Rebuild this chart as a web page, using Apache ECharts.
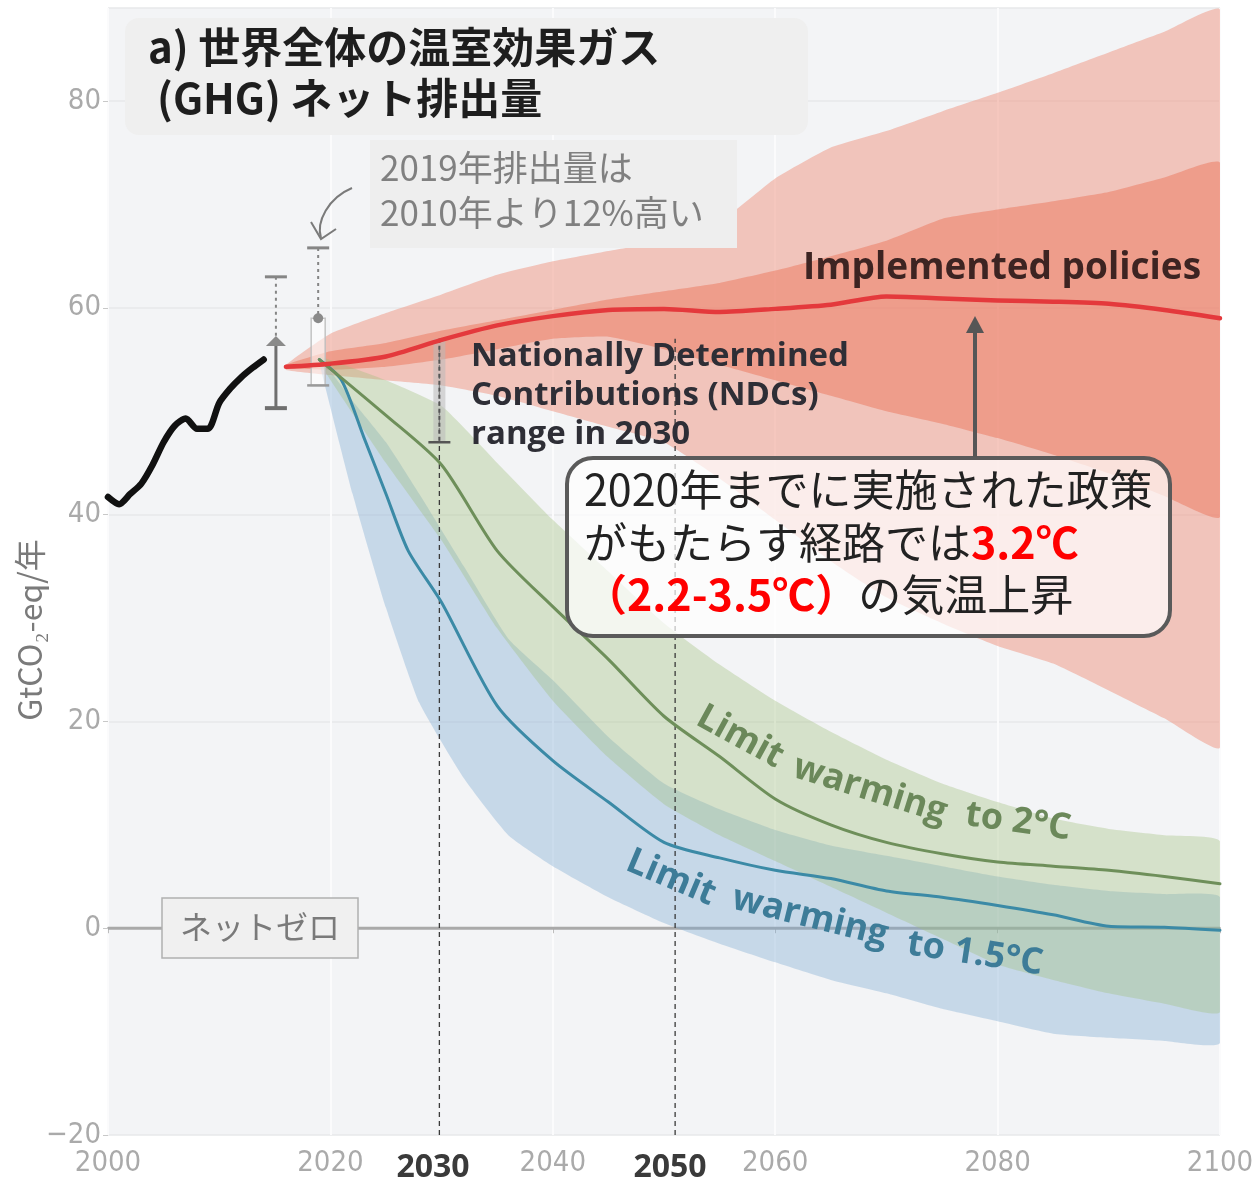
<!DOCTYPE html>
<html><head><meta charset="utf-8">
<script src="https://cdn.jsdelivr.net/npm/echarts@6/dist/echarts.min.js"></script>
<style>html,body{margin:0;padding:0;background:#fff}#c{width:1258px;height:1182px}</style>
</head><body><div id="c"></div>
<script>
// ---- historical emissions (GtCO2-eq/yr) ----
const histYears  = [2000,2001,2002,2003,2004,2005,2006,2007,2008,2009,2010,2011,2012,2013,2014];
const histValues = [41.7,41.0,42.0,43.0,44.8,47.0,48.6,49.3,48.3,48.3,50.8,52.2,53.3,54.2,55.0];

// ---- implemented policies ----
const redYears      = [2016,2020,2025,2030,2035,2040,2045,2050,2055,2060,2065,2070,2075,2080,2085,2090,2095,2100];
const redMedian     = [54.3,54.6,55.3,56.9,58.3,59.2,59.8,59.9,59.6,59.9,60.3,61.1,60.9,60.7,60.6,60.4,59.8,59.0];
const redOuterHigh  = [54.5,57.5,59.5,61.3,63.2,64.5,65.5,66.5,68.3,72.5,75.5,77.1,79.0,80.8,82.7,84.7,86.7,88.8];
const redOuterLow   = [54.0,53.5,53.0,52.5,51.5,50.0,48.5,47.0,43.5,39.5,35.5,32.0,29.5,27.3,25.6,23.0,20.3,17.5];
const redInnerHigh  = [54.5,55.8,56.6,57.8,58.8,59.8,60.8,61.6,62.4,63.6,65.0,66.5,68.6,69.5,70.3,71.2,72.6,74.0];
const redInnerLow   = [54.2,54.0,54.3,55.0,56.0,57.0,57.2,56.0,54.5,53.0,51.5,50.0,48.8,47.4,45.8,44.0,41.8,39.8];

// ---- limit warming to 2°C ----
const greenYears  = [2019,2025,2030,2035,2040,2045,2050,2055,2060,2065,2070,2075,2080,2085,2090,2095,2100];
const greenMedian = [55.0,49.6,44.8,36.5,31.1,26.0,20.5,16.6,12.5,10.0,8.3,7.2,6.4,6.0,5.6,5.0,4.3];
const greenHigh   = [55.3,53.0,50.5,45.0,39.5,34.5,29.5,25.5,22.0,19.0,16.3,14.0,12.2,10.6,9.6,9.0,8.4];
const greenLow    = [54.7,45.0,37.5,29.0,22.0,16.5,12.0,9.0,6.5,4.0,1.5,-1.0,-3.5,-5.0,-6.3,-7.3,-8.1];

// ---- limit warming to 1.5°C ----
const blueLineYears = [2019,2021,2023,2025,2027,2030,2035,2040,2045,2050,2055,2060,2065,2070,2075,2080,2085,2090,2095,2100];
const blueMedian    = [55.0,53.0,47.5,42.0,36.5,31.5,21.5,16.2,12.2,8.3,6.8,5.6,4.8,3.6,3.0,2.2,1.3,0.2,0.1,-0.2];
const blueBandYears = [2019,2022,2025,2028,2032,2036,2040,2045,2050,2055,2060,2065,2070,2075,2080,2085,2090,2095,2100];
const blueHigh      = [55.3,51.0,47.0,42.0,35.0,28.0,24.0,18.5,14.0,11.5,9.5,8.0,7.0,6.0,5.0,4.2,3.6,3.3,3.0];
const blueLow       = [54.7,42.0,31.0,21.8,14.5,9.0,6.0,3.0,0.5,-1.5,-3.3,-5.0,-6.3,-7.8,-9.0,-10.2,-10.6,-10.9,-11.1];

// ---- range bars: [year, low, mid, high] ----
const rangeBars = [[2015.1,50.3,56.6,63.0],[2018.9,52.5,59.0,65.8]];
const ndcBar    = [[2029.8,47.0,57.0]];
// ---- marked years (dashed guides) ----
const guideYears  = [2029.8,2051.0];
const guideLabels = ['2030','2050'];
const guideTop    = 57;

const xTicks = {min:2000, max:2100, interval:20};
const yTicks = {min:-20, max:89, interval:20};

const chart = echarts.init(document.getElementById('c'));

function pairs(xs, ys){ return xs.map((x,i)=>[x, ys[i]]); }

function band(name, years, lo, hi, color, z){
  return {
    type:'custom', name, z, silent:true, clip:true,
    data: years.map((y,i)=>[y, lo[i], hi[i]]),
    encode:{x:0, y:[1,2]},
    renderItem(params, api){
      if (params.dataIndexInside !== 0) return null;
      const n = params.dataInsideLength, top=[], bot=[];
      for (let i=0;i<n;i++){
        const x = api.value(0,i);
        top.push(api.coord([x, api.value(2,i)]));
        bot.push(api.coord([x, api.value(1,i)]));
      }
      return {type:'polygon', shape:{points: top.concat(bot.reverse()), smooth:0.15}, style:{fill:color}};
    }
  };
}

function line(name, xs, ys, color, width, z){
  return {type:'line', name, z, data: pairs(xs, ys), symbol:'none', smooth:0.25, silent:true,
    lineStyle:{color, width, cap:'round', join:'round'}};
}

const grey = '#858585';
const tickFont = '"DejaVu Sans Condensed", "Liberation Sans Narrow", sans-serif';

const option = {
  animation:false,
  backgroundColor:'#ffffff',
  grid:{left:108, right:38, top:8, bottom:47, show:true, backgroundColor:'#f3f4f6', borderWidth:0},
  xAxis:{type:'value', min:xTicks.min, max:xTicks.max, interval:xTicks.interval,
    axisLine:{show:true, lineStyle:{color:'#b9b9b9', width:2}},
    axisTick:{show:true, length:5, lineStyle:{color:'#bdbdbd'}},
    axisLabel:{fontFamily:tickFont, fontSize:29, color:'#aaaaaa', margin:14, formatter: v => String(v)},
    splitLine:{show:true, lineStyle:{color:'#fbfbfc', width:2}}},
  yAxis:{type:'value', min:yTicks.min, max:yTicks.max, interval:yTicks.interval,
    axisLine:{show:false},
    axisTick:{show:true, length:5, lineStyle:{color:'#c8c8c8'}},
    axisLabel:{fontFamily:tickFont, fontSize:29, color:'#aaaaaa', margin:7, showMaxLabel:false,
      formatter: v => String(v).replace('-', '\u2212')},
    splitLine:{show:true, lineStyle:{color:'#e7e8ea', width:1.5}}},
  series:[
    {type:'line', name:'zero', z:1, data:[[xTicks.min,0],[xTicks.max,0]], symbol:'none', silent:true,
      lineStyle:{color:'#a9a9a9', width:3}},
    band('redOuter', redYears, redOuterLow, redOuterHigh, 'rgba(240,148,128,0.50)', 2),
    band('redInner', redYears, redInnerLow, redInnerHigh, 'rgba(236,118,92,0.50)', 3),
    band('blue', blueBandYears, blueLow, blueHigh, 'rgba(125,172,210,0.38)', 4),
    band('green', greenYears, greenLow, greenHigh, 'rgba(160,190,125,0.36)', 4),
    // dashed guides
    {type:'custom', name:'guides', z:6, silent:true,
      data: guideYears.map(y=>[y, yTicks.min, guideTop]),
      encode:{x:0, y:[1,2]},
      renderItem(params, api){
        const p1 = api.coord([api.value(0), api.value(1)]), p2 = api.coord([api.value(0), api.value(2)]);
        return {type:'line', shape:{x1:p1[0], y1:p1[1], x2:p2[0], y2:p2[1]},
          style:{stroke:'#3a3a3a', lineWidth:1.3, lineDash:[5,4]}};
      }},
    // NDC range bar
    {type:'custom', name:'ndc', z:7, silent:true,
      data: ndcBar, encode:{x:0, y:[1,2]},
      renderItem(params, api){
        const lo = api.coord([api.value(0), api.value(1)]), hi = api.coord([api.value(0), api.value(2)]);
        return {type:'group', children:[
          {type:'rect', shape:{x:lo[0]-6, y:hi[1], width:12, height:lo[1]-hi[1]}, style:{fill:'rgba(185,185,185,0.55)'}},
          {type:'line', shape:{x1:lo[0], y1:hi[1], x2:lo[0], y2:lo[1]}, style:{stroke:'#555', lineWidth:2, lineDash:[4,3]}},
          {type:'line', shape:{x1:lo[0]-11, y1:lo[1], x2:lo[0]+11, y2:lo[1]}, style:{stroke:'#555', lineWidth:2.5}}
        ]};
      }},
    // range bars near 2015/2019
    {type:'custom', name:'ranges', z:7, silent:true,
      data: rangeBars, encode:{x:0, y:[1,2,3]},
      renderItem(params, api){
        const x = api.value(0);
        const lo = api.coord([x, api.value(1)]), mid = api.coord([x, api.value(2)]), hi = api.coord([x, api.value(3)]);
        const cx = lo[0];
        const ch = [
          {type:'line', shape:{x1:cx, y1:hi[1], x2:cx, y2:mid[1]}, style:{stroke:grey, lineWidth:2, lineDash:[3,4]}},
          {type:'line', shape:{x1:cx-11, y1:hi[1], x2:cx+11, y2:hi[1]}, style:{stroke:grey, lineWidth:3}}
        ];
        if (params.dataIndex === 0){
          ch.push({type:'line', shape:{x1:cx, y1:mid[1], x2:cx, y2:lo[1]}, style:{stroke:'#6f6f6f', lineWidth:3}});
          ch.push({type:'line', shape:{x1:cx-11, y1:lo[1], x2:cx+11, y2:lo[1]}, style:{stroke:'#6f6f6f', lineWidth:4}});
          ch.push({type:'polygon', shape:{points:[[cx-10,mid[1]+3],[cx+10,mid[1]+3],[cx,mid[1]-7]]}, style:{fill:'#8a8a8a'}});
        } else {
          ch.push({type:'rect', shape:{x:cx-7, y:mid[1], width:14, height:lo[1]-mid[1]}, style:{fill:'rgba(255,255,255,0.55)', stroke:'rgba(190,190,190,0.9)', lineWidth:1.5}});
          ch.push({type:'line', shape:{x1:cx-11, y1:lo[1], x2:cx+11, y2:lo[1]}, style:{stroke:'#9a9a9a', lineWidth:2.5}});
          ch.push({type:'circle', shape:{cx:cx, cy:mid[1], r:5}, style:{fill:'#8a8a8a'}});
        }
        return {type:'group', children:ch};
      }},
    line('blueMedian', blueLineYears, blueMedian, '#3b8aa6', 3, 8),
    line('greenMedian', greenYears, greenMedian, '#6e8f5a', 3, 8),
    line('implemented', redYears, redMedian, '#e4393c', 4.5, 9),
    line('history', histYears, histValues, '#111111', 6.5, 9)
  ],
  graphic:[
    // title
    {type:'rect', z:20, shape:{x:125, y:18, width:683, height:117, r:14}, style:{fill:'#efefef'}},
    {type:'text', z:21, x:148, y:47, style:{text:'a) 世界全体の温室効果ガス', font:'bold 42px "Noto Sans CJK JP"', fill:'#1e1e1e', verticalAlign:'middle'}},
    {type:'text', z:21, x:157, y:98, style:{text:'(GHG) ネット排出量', font:'bold 42px "Noto Sans CJK JP"', fill:'#1e1e1e', verticalAlign:'middle'}},
    // 2019 note
    {type:'rect', z:20, shape:{x:370, y:140, width:367, height:108}, style:{fill:'#eeeeee'}},
    {type:'text', z:21, x:380, y:168, style:{text:'2019年排出量は', font:'35px "Noto Sans CJK JP"', fill:'#808080', verticalAlign:'middle'}},
    {type:'text', z:21, x:380, y:213, style:{text:'2010年より12%高い', font:'35px "Noto Sans CJK JP"', fill:'#808080', verticalAlign:'middle'}},
    {type:'bezierCurve', z:21, shape:{x1:352, y1:188, x2:321, y2:238, cpx1:328, cpy1:198, cpx2:316, cpy2:222}, style:{stroke:'#7a7a7a', lineWidth:2, fill:null}},
    {type:'polyline', z:21, shape:{points:[[311,222],[321,239],[336,229]]}, style:{stroke:'#7a7a7a', lineWidth:2, fill:null}},
    // y axis name
    {type:'text', z:21, x:30, y:630, rotation:Math.PI/2, style:{text:'GtCO₂-eq/年', font:'32px "Noto Sans CJK JP"', fill:'#7a7a7a', align:'center', verticalAlign:'middle'}},
    // series labels
    {type:'text', z:21, x:803, y:268, style:{text:'Implemented policies', font:'bold 37px "Open Sans"', fill:'#3d2422', verticalAlign:'middle'}},
    {type:'text', z:21, x:471, y:396, style:{text:'Nationally Determined\nContributions (NDCs)\nrange in 2030', font:'bold 33px "Open Sans"', lineHeight:39, fill:'#2e2e36', verticalAlign:'middle'}},
    {type:'text', z:21, x:740, y:737, rotation:-0.50, style:{text:'Limit', font:'bold 36px "Open Sans"', fill:'#6b885a', align:'center', verticalAlign:'middle'}},
    {type:'text', z:21, x:870, y:790, rotation:-0.30, style:{text:'warming', font:'bold 36px "Open Sans"', fill:'#6b885a', align:'center', verticalAlign:'middle'}},
    {type:'text', z:21, x:1018, y:822, rotation:-0.14, style:{text:'to 2°C', font:'bold 36px "Open Sans"', fill:'#6b885a', align:'center', verticalAlign:'middle'}},
    {type:'text', z:21, x:671, y:878, rotation:-0.40, style:{text:'Limit', font:'bold 36px "Open Sans"', fill:'#3d7c98', align:'center', verticalAlign:'middle'}},
    {type:'text', z:21, x:810, y:917, rotation:-0.24, style:{text:'warming', font:'bold 36px "Open Sans"', fill:'#3d7c98', align:'center', verticalAlign:'middle'}},
    {type:'text', z:21, x:975, y:954, rotation:-0.15, style:{text:'to 1.5°C', font:'bold 36px "Open Sans"', fill:'#3d7c98', align:'center', verticalAlign:'middle'}},
    // net zero label
    {type:'rect', z:20, shape:{x:162, y:898, width:196, height:60}, style:{fill:'#f0f0f0', stroke:'#b0b0b0', lineWidth:1.5}},
    {type:'text', z:21, x:260, y:927, style:{text:'ネットゼロ', font:'32px "Noto Sans CJK JP"', fill:'#7a7a7a', align:'center', verticalAlign:'middle'}},
    // arrow to implemented policies
    {type:'line', z:21, shape:{x1:975, y1:457, x2:975, y2:330}, style:{stroke:'#565656', lineWidth:4}},
    {type:'polygon', z:21, shape:{points:[[966,333],[984,333],[975,316]]}, style:{fill:'#565656'}},
    // callout box
    {type:'rect', z:20, shape:{x:567, y:458, width:603, height:178, r:26}, style:{fill:'rgba(255,255,255,0.70)', stroke:'#5a5a5a', lineWidth:4}},
    {type:'text', z:21, x:584, y:490, style:{text:'2020年までに実施された政策', font:'43px "Noto Sans CJK JP"', fill:'#222', verticalAlign:'middle'}},
    {type:'text', z:21, x:584, y:543, style:{text:'がもたらす経路では{r|3.2℃}', font:'43px "Noto Sans CJK JP"', fill:'#222', verticalAlign:'middle',
      rich:{r:{font:'bold 43px "Noto Sans CJK JP"', fill:'#ff0000'}}}},
    {type:'text', z:21, x:584, y:595, style:{text:'{r|（2.2-3.5℃）}の気温上昇', font:'43px "Noto Sans CJK JP"', fill:'#222', verticalAlign:'middle',
      rich:{r:{font:'bold 43px "Noto Sans CJK JP"', fill:'#ff0000'}}}},
    // bold guide year labels
    {type:'text', z:21, x:433, y:1168, style:{text:guideLabels[0], font:'bold 32px "Open Sans"', fill:'#3a3a3a', align:'center', verticalAlign:'middle'}},
    {type:'text', z:21, x:670, y:1168, style:{text:guideLabels[1], font:'bold 32px "Open Sans"', fill:'#3a3a3a', align:'center', verticalAlign:'middle'}}
  ]
};
chart.setOption(option);
</script>
</body></html>
